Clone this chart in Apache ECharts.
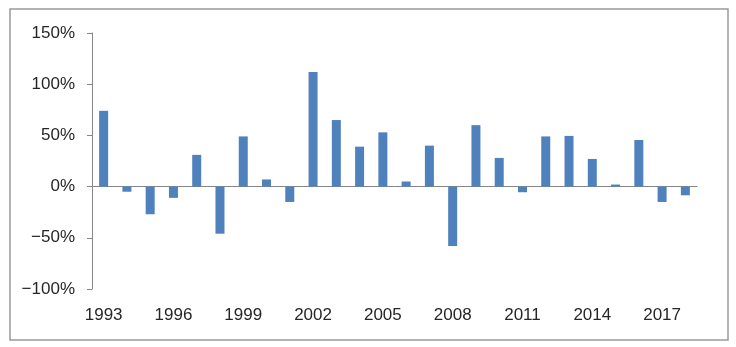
<!DOCTYPE html>
<html>
<head>
<meta charset="utf-8">
<script src="https://cdn.jsdelivr.net/npm/echarts@6/dist/echarts.min.js"></script>
<style>
  html, body { margin: 0; padding: 0; background: #fff; }
  #chart { width: 736px; height: 347px; }
</style>
</head>
<body>
<div id="chart"></div>
<script>
// years 1993..2018
const years = ['1993', '1994', '1995', '1996', '1997', '1998', '1999', '2000', '2001', '2002',
  '2003', '2004', '2005', '2006', '2007', '2008', '2009', '2010', '2011', '2012',
  '2013', '2014', '2015', '2016', '2017', '2018'];
// annual return, %
const returns = [74, -5, -27, -11, 31, -46, 49, 7, -15, 112,
  65, 39, 53, 5, 40, -58, 60, 28, -5.5, 49,
  49.5, 27, 2, 45.5, -15, -8.5];
const yTicks = [-100, -50, 0, 50, 100, 150];

const textColor = '#262626';
const lineColor = '#868686';

const myChart = echarts.init(document.getElementById('chart'));
const option = {
  backgroundColor: '#fff',
  animation: false,
  graphic: [{
    type: 'rect',
    shape: { x: 10, y: 9, width: 718, height: 331 },
    style: { fill: 'none', stroke: '#9a9a9a', lineWidth: 1.5 }
  }],
  grid: { left: 92, right: 39, top: 33, bottom: 58 },
  xAxis: [
    {
      // labels along the bottom
      type: 'category',
      data: years,
      position: 'bottom',
      axisLine: { show: false, onZero: false },
      axisTick: { show: false },
      axisLabel: {
        interval: 2,
        margin: 18,
        color: textColor,
        fontFamily: 'Liberation Sans',
        fontSize: 17
      }
    },
    {
      // zero line
      type: 'category',
      data: years,
      axisLine: { show: true, onZero: true, lineStyle: { color: lineColor, width: 1 } },
      axisTick: { show: false },
      axisLabel: { show: false }
    }
  ],
  yAxis: {
    type: 'value',
    min: yTicks[0],
    max: yTicks[yTicks.length - 1],
    interval: 50,
    axisLine: { show: true, lineStyle: { color: lineColor, width: 1 } },
    axisTick: { show: true, length: 5, lineStyle: { color: lineColor } },
    splitLine: { show: false },
    axisLabel: {
      margin: 17,
      color: textColor,
      fontFamily: 'Liberation Sans',
      fontSize: 17,
      formatter: function (v) {
        return (v < 0 ? '\u2212' + Math.abs(v) : v) + '%';
      }
    }
  },
  series: [{
    type: 'bar',
    data: returns,
    xAxisIndex: 0,
    barWidth: 9,
    itemStyle: { color: '#4f81bd' }
  }]
};
myChart.setOption(option);
</script>
</body>
</html>
